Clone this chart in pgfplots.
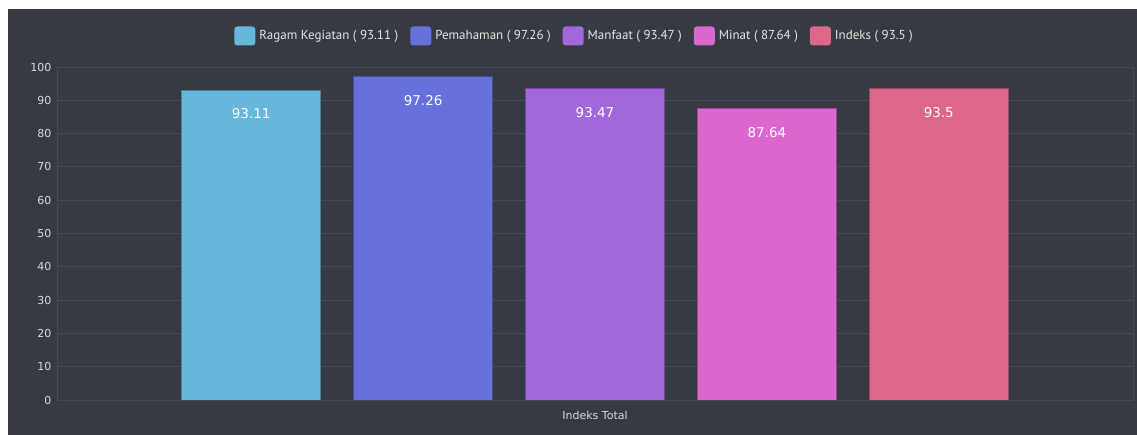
\documentclass[border=0pt]{standalone}
\usepackage{pgfplots}
\pgfplotsset{compat=1.18}
\usepackage{fontspec}
\setmainfont{DejaVu Sans}
\newfontfamily\legfont{PT Sans}
\definecolor{bgc}{HTML}{363A42}
\definecolor{gridc}{HTML}{464B53}
\definecolor{txtc}{HTML}{DADADA}
\definecolor{cA}{HTML}{67B7DC}
\definecolor{cB}{HTML}{6771DC}
\definecolor{cC}{HTML}{A367DC}
\definecolor{cD}{HTML}{DC67CE}
\definecolor{cE}{HTML}{DC6788}
\begin{document}
\begin{tikzpicture}
\fill[white] (-5bp,-5bp) rectangle (1142bp,440bp);
\fill[bgc] (8bp,-5bp) rectangle (1142bp,426bp);
\begin{axis}[
  at={(57bp,35bp)}, anchor=south west,
  scale only axis, width=1076bp, height=333bp,
  xmin=-1.13, xmax=5.13, ymin=0, ymax=100,
  ytick={0,10,...,100},
  xtick={2}, xticklabels={Indeks Total},
  ymajorgrids, major grid style={draw=gridc, line width=0.8bp},
  axis line style={draw=gridc, line width=0.8bp},
  major tick style={draw=none},
  tick label style={font=\fontsize{11bp}{13bp}\selectfont, text=txtc},
  yticklabel style={xshift=-2bp},
  xticklabel style={yshift=-3bp},
  /pgf/number format/assume math mode=true,
  ybar, bar width=139bp, bar shift=0bp,
  nodes near coords,
  every node near coord/.append style={anchor=center, yshift=-24bp, font=\fontsize{13.5bp}{15bp}\selectfont, text=white},
  legend columns=5,
  legend style={at={(0.481,1)}, anchor=center, yshift=31bp, draw=none, fill=none,
    font=\legfont\fontsize{13bp}{15bp}\selectfont, text=white!90!black,
    /tikz/every even column/.append style={column sep=10bp},
    inner sep=0pt},
  legend image code/.code={\fill[draw=none, rounded corners=3bp] (0bp,-9.5bp) rectangle (21bp,9.5bp); \path[draw=none, fill=none] (0bp,0bp) -- (23bp,0bp);},
]
\addplot[fill=cA, draw=cA!70!black, line width=0.8bp] coordinates {(0,93.11)};
\addlegendentry{Ragam Kegiatan ( 93.11 )}
\addplot[fill=cB, draw=cB!70!black, line width=0.8bp] coordinates {(1,97.26)};
\addlegendentry{Pemahaman ( 97.26 )}
\addplot[fill=cC, draw=cC!70!black, line width=0.8bp] coordinates {(2,93.47)};
\addlegendentry{Manfaat ( 93.47 )}
\addplot[fill=cD, draw=cD!70!black, line width=0.8bp] coordinates {(3,87.64)};
\addlegendentry{Minat ( 87.64 )}
\addplot[fill=cE, draw=cE!70!black, line width=0.8bp] coordinates {(4,93.5)};
\addlegendentry{Indeks ( 93.5 )}
\end{axis}
\pgfresetboundingbox
\path (0,0) rectangle (1137bp,435bp);
\end{tikzpicture}
\end{document}
